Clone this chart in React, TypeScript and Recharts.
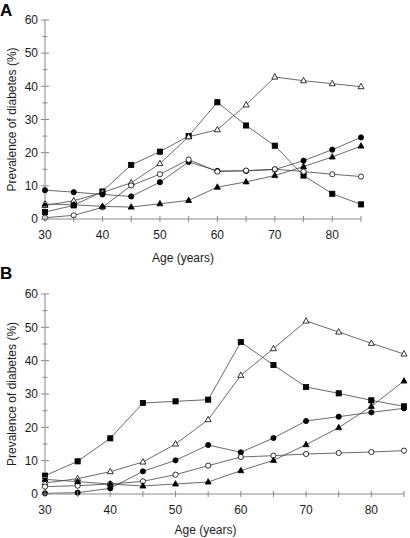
import { LineChart, Line, XAxis, YAxis } from "recharts";

// Age groups (years)
const AGES = [30, 35, 40, 45, 50, 55, 60, 65, 70, 75, 80, 85];
const X_TICKS = [30, 35, 40, 45, 50, 55, 60, 65, 70, 75, 80, 85];
const Y_TICKS = [0, 5, 10, 15, 20, 25, 30, 35, 40, 45, 50, 55, 60];

// Panel A, prevalence of diabetes (%)
const A_FILLED_SQUARE = [2.1, 4.1, 8.3, 16.3, 20.3, 25.0, 35.2, 28.2, 22.1, 13.1, 7.6, 4.4];
const A_OPEN_TRIANGLE = [4.1, 5.5, 8.0, 10.9, 16.7, 24.8, 26.9, 34.4, 42.8, 41.7, 40.8, 39.9];
const A_FILLED_CIRCLE = [8.7, 8.1, 7.4, 6.8, 11.1, 17.2, 14.5, 14.5, 14.9, 17.6, 20.9, 24.6];
const A_OPEN_CIRCLE = [0.4, 1.1, 3.5, 10.1, 13.5, 17.9, 14.3, 14.6, 15.0, 14.3, 13.5, 12.8];
const A_FILLED_TRIANGLE = [4.5, 4.3, 3.8, 3.6, 4.6, 5.6, 9.6, 11.2, 13.1, 15.8, 18.7, 22.0];

// Panel B, prevalence of diabetes (%)
const B_FILLED_SQUARE = [5.5, 9.8, 16.7, 27.3, 27.8, 28.3, 45.6, 38.7, 32.1, 30.2, 28.1, 26.3];
const B_OPEN_TRIANGLE = [3.3, 4.6, 6.7, 9.6, 15.0, 22.3, 35.6, 43.6, 51.9, 48.6, 45.2, 42.0];
const B_FILLED_CIRCLE = [0.2, 0.4, 1.7, 6.8, 10.1, 14.7, 12.5, 16.8, 21.9, 23.2, 24.5, 25.7];
const B_OPEN_CIRCLE = [2.2, 2.5, 3.0, 3.8, 5.8, 8.5, 11.1, 11.5, 12.0, 12.3, 12.6, 13.0];
const B_FILLED_TRIANGLE = [4.4, 3.7, 3.0, 2.4, 3.0, 3.6, 7.0, 10.1, 14.8, 19.9, 26.3, 33.9];

type Shape = "circle" | "square" | "triangle";
type Series = { key: string; values: number[]; shape: Shape; filled: boolean };

const SERIES_A: Series[] = [
  { key: "filledSquare", values: A_FILLED_SQUARE, shape: "square", filled: true },
  { key: "openTriangle", values: A_OPEN_TRIANGLE, shape: "triangle", filled: false },
  { key: "filledCircle", values: A_FILLED_CIRCLE, shape: "circle", filled: true },
  { key: "openCircle", values: A_OPEN_CIRCLE, shape: "circle", filled: false },
  { key: "filledTriangle", values: A_FILLED_TRIANGLE, shape: "triangle", filled: true },
];

const SERIES_B: Series[] = [
  { key: "filledSquare", values: B_FILLED_SQUARE, shape: "square", filled: true },
  { key: "openTriangle", values: B_OPEN_TRIANGLE, shape: "triangle", filled: false },
  { key: "filledCircle", values: B_FILLED_CIRCLE, shape: "circle", filled: true },
  { key: "openCircle", values: B_OPEN_CIRCLE, shape: "circle", filled: false },
  { key: "filledTriangle", values: B_FILLED_TRIANGLE, shape: "triangle", filled: true },
];

const FONT = '"Liberation Sans", Arial, sans-serif';
const AXIS = "#8a8a8a";
const INK = "#1c1c1c";
const LINE = "#444";

const buildRows = (series: Series[]) =>
  AGES.map((age, i) => {
    const row: Record<string, number> = { age };
    series.forEach((s) => (row[s.key] = s.values[i]));
    return row;
  });

const Marker = ({ cx, cy, shape, filled }: any) => {
  if (cx == null || cy == null) return null;
  const fill = filled ? "#000" : "#fff";
  const stroke = "#000";
  if (shape === "square") {
    return <rect x={cx - 2.6} y={cy - 2.6} width={5.2} height={5.2} fill={fill} stroke={stroke} strokeWidth={0.8} />;
  }
  if (shape === "triangle") {
    const h = 5.4;
    const pts = `${cx},${cy - h * 0.62} ${cx - 3},${cy + h * 0.38} ${cx + 3},${cy + h * 0.38}`;
    return <polygon points={pts} fill={fill} stroke={stroke} strokeWidth={0.8} />;
  }
  return <circle cx={cx} cy={cy} r={2.6} fill={fill} stroke={stroke} strokeWidth={0.8} />;
};

// x ticks cross the axis line, labels only on decades
const XTick = ({ x, y, payload }: any) => {
  const axisY = y - 10;
  return (
    <g>
      <line x1={x} x2={x} y1={axisY - 3} y2={axisY + 3} stroke={AXIS} />
      {payload.value % 10 === 0 && (
        <text x={x} y={axisY + 20} textAnchor="middle" fontSize={12} fill={INK} fontFamily={FONT}>
          {payload.value}
        </text>
      )}
    </g>
  );
};

const YTick = ({ x, y, payload }: any) => {
  const axisX = x + 8;
  const major = payload.value % 10 === 0;
  const half = major ? 4 : 2.5;
  return (
    <g>
      <line x1={axisX - half} x2={axisX + half} y1={y} y2={y} stroke={AXIS} />
      {major && (
        <text x={axisX - 7} y={y} dy="0.36em" textAnchor="end" fontSize={12} fill={INK} fontFamily={FONT}>
          {payload.value}
        </text>
      )}
    </g>
  );
};

const Panel = ({
  series,
  width,
  height,
  margin,
  xAxisHeight,
  titleOffset,
  titleDx,
}: {
  series: Series[];
  width: number;
  height: number;
  margin: { top: number; right: number; bottom: number; left: number };
  xAxisHeight: number;
  titleOffset: number;
  titleDx: number;
}) => (
  <LineChart width={width} height={height} data={buildRows(series)} margin={margin}>
    <XAxis
      dataKey="age"
      type="number"
      domain={[30, 85]}
      ticks={X_TICKS}
      interval={0}
      height={xAxisHeight}
      stroke={AXIS}
      tickLine={false}
      tickSize={3}
      tickMargin={7}
      tick={<XTick />}
      label={{
        value: "Age (years)",
        position: "insideBottom",
        offset: titleOffset,
        dx: titleDx,
        fontSize: 12,
        fill: INK,
        fontFamily: FONT,
      }}
    />
    <YAxis
      type="number"
      domain={[0, 60]}
      ticks={Y_TICKS}
      interval={0}
      width={45}
      stroke={AXIS}
      tickLine={false}
      tickSize={4}
      tickMargin={4}
      tick={<YTick />}
      label={{
        value: "Prevalence of diabetes (%)",
        angle: -90,
        position: "insideLeft",
        offset: 12,
        fontSize: 12,
        fill: INK,
        fontFamily: FONT,
        style: { textAnchor: "middle" },
      }}
    />
    {series.map((s) => (
      <Line
        key={s.key}
        type="linear"
        dataKey={s.key}
        stroke={LINE}
        strokeWidth={0.8}
        isAnimationActive={false}
        dot={(p: any) => <Marker key={`${s.key}-${p.index}`} cx={p.cx} cy={p.cy} shape={s.shape} filled={s.filled} />}
        activeDot={false}
      />
    ))}
  </LineChart>
);

const panelLetter = (top: number): React.CSSProperties => ({
  position: "absolute",
  left: 0,
  top,
  fontFamily: FONT,
  fontWeight: 700,
  fontSize: 17,
  lineHeight: "17px",
  color: "#000",
});

export default function App() {
  return (
    <div style={{ position: "absolute", left: 0, top: 0, width: 410, height: 538, background: "#fff" }}>
      <div style={{ position: "absolute", left: 0, top: 0 }}>
        <Panel
          series={SERIES_A}
          width={410}
          height={270}
          margin={{ top: 20, right: 49, bottom: 1, left: 0 }}
          xAxisHeight={50}
          titleOffset={7.5}
          titleDx={-20}
        />
      </div>
      <div style={{ position: "absolute", left: 0, top: 270 }}>
        <Panel
          series={SERIES_B}
          width={410}
          height={268}
          margin={{ top: 24, right: 6, bottom: 0, left: 0 }}
          xAxisHeight={44}
          titleOffset={4.5}
          titleDx={-19}
        />
      </div>
      <div style={panelLetter(2)}>A</div>
      <div style={panelLetter(265)}>B</div>
    </div>
  );
}
